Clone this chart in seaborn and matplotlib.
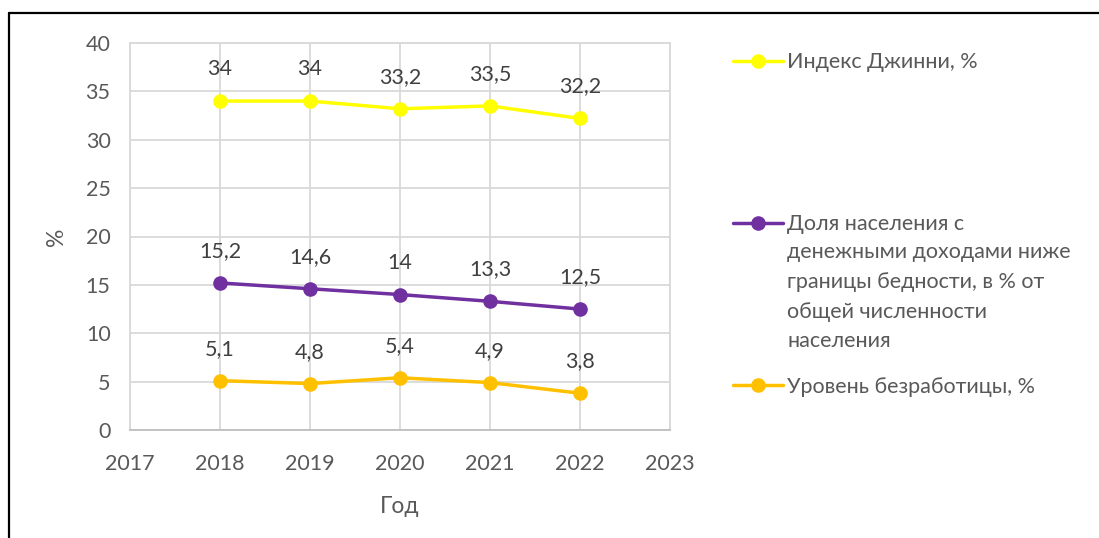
import pandas as pd
import numpy as np
import matplotlib.pyplot as plt
import matplotlib.lines as mlines
import seaborn as sns

# Данные
years = [2018, 2019, 2020, 2021, 2022]
gini = [34, 34, 33.2, 33.5, 32.2]
poverty = [15.2, 14.6, 14, 13.3, 12.5]
unemployment = [5.1, 4.8, 5.4, 4.9, 3.8]

names = ['Индекс Джинни, %', 'Доля населения с', 'Уровень безработицы, %']
poverty_rest = 'денежными доходами ниже\nграницы бедности, в % от\nобщей численности\nнаселения'
colors = ['#FFFF00', '#7030A0', '#FFC000']

df = pd.DataFrame({
    'year': years * 3,
    'value': gini + poverty + unemployment,
    'series': [names[0]] * 5 + [names[1]] * 5 + [names[2]] * 5,
})

sns.set_style('white')
plt.rcParams['font.family'] = ['Lato', 'DejaVu Sans']
fs = 15.5

fig = plt.figure(figsize=(10.99, 5.38), dpi=100)
ax = fig.add_axes([130 / 1099, 1 - 430 / 538, 540 / 1099, 387 / 538])

sns.lineplot(data=df, x='year', y='value', hue='series', hue_order=names,
             palette=dict(zip(names, colors)), marker='o', markersize=10.5,
             markeredgewidth=0, linewidth=2.5, ax=ax)

# Подписи данных
for _, row in df.iterrows():
    txt = f"{row['value']:g}".replace('.', ',')
    ax.annotate(txt, (row['year'], row['value']), xytext=(0, 23),
                textcoords='offset points', ha='center', va='center',
                fontsize=fs, color='#404040')

ax.set_xlim(2017, 2023)
ax.set_ylim(0, 40)
ax.set_xticks(range(2017, 2024))
ax.set_yticks(range(0, 41, 5))
ax.grid(True, color='#D9D9D9', linewidth=1.3)
for s in ax.spines.values():
    s.set_color('#D9D9D9')
    s.set_linewidth(1.3)
ax.spines['bottom'].set_color('#BFBFBF')
ax.tick_params(axis='x', length=0, labelsize=fs, colors='#595959', pad=17)
ax.tick_params(axis='y', length=0, labelsize=fs, colors='#595959', pad=14)
ax.set_xlabel('Год', fontsize=fs + 1, color='#595959', labelpad=16)
ax.set_ylabel('%', fontsize=fs + 1, color='#595959', labelpad=13)

handles, labels = ax.get_legend_handles_labels()
ax.get_legend().remove()
leg = fig.legend(handles, labels, loc='upper left', bbox_to_anchor=(714 / 1099, 1 - 33 / 538),
                 frameon=False, fontsize=fs, handlelength=2.3, handletextpad=0.2,
                 labelspacing=6.6, labelcolor='#595959')

fig.canvas.draw()
bb = leg.get_texts()[1].get_window_extent()
fig.text(bb.x0 / fig.bbox.width, (bb.y0 - 8) / fig.bbox.height, poverty_rest,
         ha='left', va='top', fontsize=fs, color='#595959', linespacing=1.6)

# Рамка
fig.add_artist(mlines.Line2D([9 / 1099, 9 / 1099], [0, 1 - 13 / 538], color='black', linewidth=1.6))
fig.add_artist(mlines.Line2D([9 / 1099, 1], [1 - 13 / 538, 1 - 13 / 538], color='black', linewidth=1.6))

fig.savefig('out.png', dpi=100)
